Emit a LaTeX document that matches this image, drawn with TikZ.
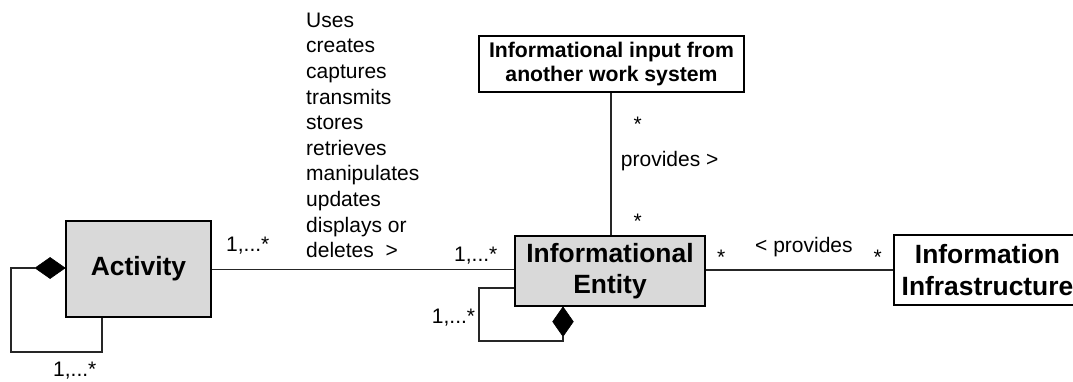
\documentclass[tikz,border=0pt]{standalone}
\usepackage{fontspec}
\setmainfont{Liberation Sans}
\begin{document}
\begin{tikzpicture}[x=1pt,y=-1pt,
  box/.style={draw=black, line width=1.8pt, inner sep=0pt, align=center,
    font=\bfseries\fontsize{26.4}{31}\selectfont},
  graybox/.style={box, fill=black!15},
  smallbox/.style={draw=black, line width=1.8pt, inner sep=0pt, align=center,
    font=\bfseries\fontsize{21.2}{23.4}\selectfont, fill=white},
  lbl/.style={inner sep=0pt, anchor=base west, font=\fontsize{21}{25.6}\selectfont},
  conn/.style={draw=black!85, line width=1.1pt},
  dia/.style={fill=black, draw=black, line width=0.6pt}]
\useasboundingbox (0,0) rectangle (1073,381);

% boxes
\node[graybox, minimum width=145pt, minimum height=96pt] (act) at (138.5,269) {Activity};
\node[graybox, minimum width=190pt, minimum height=70pt] (ent) at (610,271) {Informational\\Entity};
\node[smallbox, minimum width=265pt, minimum height=56pt] (inp) at (611.5,64) {Informational input from\\another work system};
\node[box, minimum width=187pt, minimum height=70pt, fill=white, font=\bfseries\fontsize{26.4}{32.6}\selectfont] (inf) at (987.5,270) {Information\\Infrastructure};

% main connectors
\draw[conn] (act.east |- 0,269.5) coordinate (a1) -- (ent.west |- a1);
\draw[conn] (ent.east |- 0,270) coordinate (e1) -- (inf.west |- e1);
\draw[conn] (inp.south -| 611,0) coordinate (i1) -- (ent.north -| i1);

% Activity self-association with diamond
\coordinate (ad) at (act.west |- 0,268);
\coordinate (adl) at ([xshift=-30pt]ad);
\fill[dia] (ad) -- ([xshift=-15pt,yshift=10.5pt]ad) -- (adl) -- ([xshift=-15pt,yshift=-10.5pt]ad) -- cycle;
\coordinate (ab) at (act.south -| 102,0);
\draw[conn] (adl) -- (11,268) -- (11,352) -- (102,352) -- (ab);

% Entity self-association with diamond
\coordinate (ed) at (ent.south -| 563,0);
\coordinate (edb) at ([yshift=-29.5pt]ed);
\fill[dia] (ed) -- ([xshift=10.3pt,yshift=-14.75pt]ed) -- (edb) -- ([xshift=-10.3pt,yshift=-14.75pt]ed) -- cycle;
\coordinate (ew) at (ent.west |- 0,288);
\draw[conn] (ew) -- (479,288) -- (479,341) -- (563,341) -- (edb);

% labels
\node[lbl, align=left] (verbs) at (306,257.7) {Uses\\creates\\captures\\transmits\\stores\\retrieves\\manipulates\\updates\\displays or\\deletes~~>};
\node[lbl] (m1) at (226,251.7) {1,...*};
\node[lbl] (m2) at (454,261.7) {1,...*};
\node[lbl] (m3) at (431.7,323) {1,...*};
\node[lbl] (m4) at (53,376) {1,...*};
\node[lbl] (s1) at (717,264.5) {*};
\node[lbl] (pv1) at (755,252) {< provides};
\node[lbl] (s2) at (873.3,264.5) {*};
\node[lbl] (s3) at (633.3,131.7) {*};
\node[lbl] (pv2) at (620.7,166.7) {provides >};
\node[lbl] (s4) at (633.3,228) {*};
\end{tikzpicture}
\end{document}
